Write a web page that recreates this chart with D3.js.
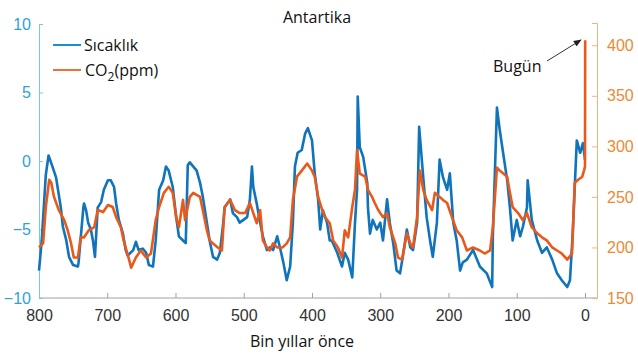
<!DOCTYPE html>
<html><head><meta charset="utf-8">
<script src="https://cdn.jsdelivr.net/npm/d3@7"></script>
<style>body{margin:0;background:#fff}svg{display:block}</style>
</head><body>
<svg id="c" width="638" height="353"></svg>
<script>
// thousands of years before present
const tempYears = [800,796,790,786,781,775,768,765,760,756,750,743,742,735,734,731,728,724,721,718,714,709,705,699,695,690,687,683,677,673,670,662,658,654,648,643,639,633,629,624,618,614,610,604,599,595,589,585,582,579,569,564,560,554,550,545,539,535,530,528,520,516,510,506,495,491,488,486,481,476,472,466,462,457,451,447,442,437,432,428,425,421,415,410,406,400,396,391,388,384,378,374,371,363,356,352,347,341,337,334,333,330,325,319,318,315,311,305,300,296,290,286,281,276,271,267,261,256,252,246,243,237,232,227,223,217,213,208,202,198,193,188,183,179,173,164,154,144,136,135,129,125,120,114,110,106,100,95,91,85,84,78,70,63,56,48,41,34,26,22,18,12,7,3,0];
const tempValues = [-8.0,-5.8,-1.0,0.4,-0.3,-1.2,-3.4,-4.8,-5.8,-7.0,-7.6,-7.7,-7.4,-3.4,-3.1,-3.6,-4.5,-5.0,-5.8,-7.0,-3.4,-3.0,-2.1,-1.4,-1.4,-1.9,-3.1,-4.3,-5.3,-6.5,-6.9,-6.5,-5.9,-6.5,-6.4,-6.7,-7.6,-7.7,-5.8,-2.1,-1.4,-0.4,-0.7,-1.9,-4.1,-5.5,-5.8,-6.0,-0.3,-0.1,-0.7,-1.6,-2.6,-4.5,-5.8,-7.0,-7.2,-6.7,-4.5,-3.4,-2.8,-3.8,-4.1,-4.5,-4.1,-2.8,-0.4,-1.9,-3.1,-4.5,-5.5,-6.5,-6.3,-6.5,-5.5,-6.3,-7.4,-8.7,-7.7,-4.5,-0.4,0.6,0.8,2.0,2.4,1.5,-0.9,-2.8,-5.0,-3.6,-4.5,-5.8,-5.8,-6.7,-7.7,-6.7,-7.2,-8.5,-4.5,-2.1,4.7,1.0,0.3,-1.6,-3.4,-5.3,-4.3,-5.0,-4.5,-5.8,-2.8,-4.5,-6.0,-8.0,-8.2,-7.0,-5.0,-6.3,-6.5,-4.5,2.5,-1.2,-4.1,-5.8,-7.0,-4.5,0.1,-1.2,-2.1,-0.9,-4.5,-5.8,-8.0,-7.4,-7.2,-6.5,-7.7,-8.2,-9.2,-5.5,3.9,2.3,0.6,-1.4,-3.4,-5.8,-4.3,-5.5,-4.8,-3.4,-1.4,-4.3,-5.8,-6.7,-6.3,-7.2,-8.2,-8.7,-9.2,-8.7,-5.3,1.5,0.6,1.3,0.1];
const co2Years = [800,794,790,785,782,778,771,763,758,753,749,743,739,734,727,719,714,706,699,692,687,680,676,668,665,658,651,643,636,629,624,617,610,604,599,595,589,586,579,574,564,560,554,550,545,538,532,528,520,513,506,498,491,486,481,476,472,466,462,457,451,443,437,432,428,422,415,407,400,396,391,385,381,374,369,362,356,352,347,341,337,334,330,322,318,312,308,303,296,290,286,278,274,268,261,256,252,246,242,237,232,224,220,213,208,202,195,188,180,173,164,154,147,139,135,129,125,114,110,106,98,91,85,78,70,63,56,48,41,34,26,19,15,10,4,1.5,0,-0.3];
const co2Values = [200,204,240,267,264,250,237,227,217,204,190,190,210,210,217,220,237,235,242,240,230,220,207,188,180,190,197,190,194,227,240,254,260,254,230,220,247,227,250,254,250,237,217,207,204,200,197,240,247,237,234,234,244,234,224,237,207,200,197,204,200,200,204,210,247,270,276,283,276,270,250,237,230,224,207,200,190,217,210,240,257,296,273,270,257,250,244,237,230,234,220,204,190,188,214,204,200,230,276,257,247,237,254,250,247,244,230,217,210,197,200,197,194,197,220,279,276,270,254,240,234,227,234,220,214,210,207,200,197,194,188,194,264,267,270,276,280,405];
const tempTicks = [-10,-5,0,5,10];
const co2Ticks = [150,200,250,300,350,400];
const yearTicks = [800,700,600,500,400,300,200,100,0];

const svg = d3.select('#c');
const x = d3.scaleLinear().domain([800,-17.6]).range([39,597]);
const yT = d3.scaleLinear().domain([-10,10]).range([298,24]);
const yC = d3.scaleLinear().domain([150,422]).range([298,23]);
const font = "'Liberation Sans', Arial, sans-serif";

// axes
const gx = svg.append('g').attr('transform','translate(0,298)')
  .call(d3.axisBottom(x).tickValues(yearTicks).tickSize(-5).tickPadding(12).tickFormat(d3.format('d')));
gx.select('.domain').attr('stroke','#a0a0a0').attr('d','M39,0H597');
gx.selectAll('.tick line').attr('stroke','#a0a0a0');
gx.selectAll('text').attr('fill','#333').style('font-family',font).style('font-size','16px');

const gl = svg.append('g').attr('transform','translate(39,0)')
  .call(d3.axisLeft(yT).tickValues(tempTicks).tickSize(-4).tickPadding(8));
gl.select('.domain').attr('stroke','#7cc8e2');
gl.selectAll('.tick line').attr('stroke','#7cc8e2');
gl.selectAll('text').attr('fill','#2fa3cf').style('font-family',font).style('font-size','16px');

const gr = svg.append('g').attr('transform','translate(597,0)')
  .call(d3.axisRight(yC).tickValues(co2Ticks).tickSize(-5).tickPadding(10));
gr.select('.domain').attr('stroke','#f4b37c');
gr.selectAll('.tick line').attr('stroke','#f4b37c');
gr.selectAll('text').attr('fill','#eb8a34').style('font-family',font).style('font-size','16px');

// series
const tData = tempYears.map((d,i)=>[d,tempValues[i]]);
const cData = co2Years.map((d,i)=>[d,co2Values[i]]);
svg.append('path').datum(tData).attr('fill','none').attr('stroke','#0f74bb').attr('stroke-width',2.6)
  .attr('stroke-linejoin','round').attr('d',d3.line().x(d=>x(d[0])).y(d=>yT(d[1])));
svg.append('path').datum(cData).attr('fill','none').attr('stroke','#e8591b').attr('stroke-width',2.6)
  .attr('stroke-linejoin','round').attr('d',d3.line().x(d=>x(d[0])).y(d=>yC(d[1])));

// title and labels
svg.append('text').attr('x',317).attr('y',23).attr('text-anchor','middle').style('font-family',"'Open Sans',sans-serif").style('font-size','16px').attr('fill','#111').text('Antartika');
svg.append('text').attr('x',302).attr('y',347).attr('text-anchor','middle').style('font-family',"'Open Sans',sans-serif").style('font-size','16px').attr('fill','#111').text('Bin yıllar önce');

// legend
svg.append('line').attr('x1',53).attr('x2',81).attr('y1',45).attr('y2',45).attr('stroke','#1a8fcf').attr('stroke-width',2);
svg.append('text').attr('x',84).attr('y',51).style('font-family',"'Open Sans',sans-serif").style('font-size','16px').attr('fill','#111').text('Sıcaklık');
svg.append('line').attr('x1',53).attr('x2',81).attr('y1',70).attr('y2',70).attr('stroke','#e8733a').attr('stroke-width',2);
const lt = svg.append('text').attr('x',85).attr('y',76).style('font-family',"'Open Sans',sans-serif").style('font-size','16px').attr('fill','#111');
lt.append('tspan').text('CO');
lt.append('tspan').attr('dy',5).style('font-size','12px').text('2');
lt.append('tspan').attr('dy',-5).text('(ppm)');

// annotation
svg.append('defs').append('marker').attr('id','ar').attr('viewBox','0 0 10 10').attr('refX',9).attr('refY',5)
  .attr('markerWidth',8).attr('markerHeight',8).attr('orient','auto')
  .append('path').attr('d','M0,1L10,5L0,9Z').attr('fill','#222');
svg.append('text').attr('x',493).attr('y',72).style('font-family',"'Open Sans',sans-serif").style('font-size','16px').attr('fill','#111').text('Bugün');
svg.append('line').attr('x1',547).attr('y1',61).attr('x2',581).attr('y2',40).attr('stroke','#333').attr('stroke-width',1).attr('marker-end','url(#ar)');
</script>
</body></html>
